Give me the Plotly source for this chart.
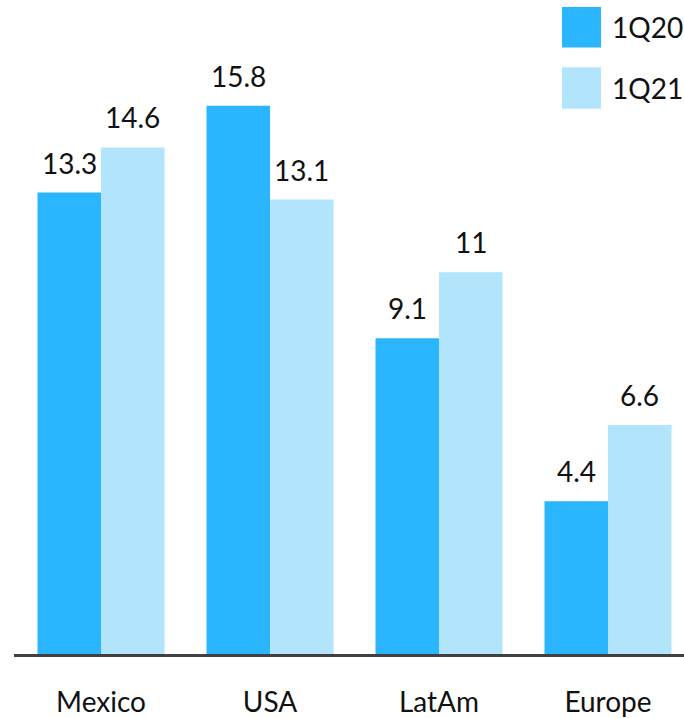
import plotly.graph_objects as go

# Regional values for the two quarters
regions = ["Mexico", "USA", "LatAm", "Europe"]
q1_2020 = [13.3, 15.8, 9.1, 4.4]
q1_2021 = [14.6, 13.1, 11, 6.6]
series_names = ["1Q20", "1Q21"]

COLOR_20 = "#2AB5FE"
COLOR_21 = "#B2E4FB"
FONT = "Lato, 'Open Sans', sans-serif"
TEXT_COLOR = "#111111"

W, H = 684, 718
M_L, M_R, M_T, M_B = 14, 0, 0, 56

fig = go.Figure()
for name, vals, col in [(series_names[0], q1_2020, COLOR_20),
                        (series_names[1], q1_2021, COLOR_21)]:
    fig.add_trace(go.Bar(
        x=regions, y=vals, name=name,
        marker=dict(color=col, line=dict(width=0)),
        showlegend=False,
    ))

# Value labels above each bar (half a bar width left/right of the category centre)
bar_px = 63.5
for vals, shift in [(q1_2020, -bar_px / 2), (q1_2021, bar_px / 2)]:
    for r, v in zip(regions, vals):
        fig.add_annotation(
            x=r, y=v, text=f"{v:g}", showarrow=False,
            xshift=shift, yshift=11, yanchor="bottom",
            font=dict(family=FONT, size=28, color=TEXT_COLOR),
        )

# Legend drawn as large swatches with labels in the top-right corner
plot_w = W - M_L - M_R
plot_h = H - M_T - M_B

def px_x(px):
    return (px - M_L) / plot_w

def px_y(py):
    return (H - M_B - py) / plot_h

for (y0, y1), name, col in [((7, 48), series_names[0], COLOR_20),
                            ((68, 110), series_names[1], COLOR_21)]:
    fig.add_shape(type="rect", xref="paper", yref="paper",
                  x0=px_x(562), x1=px_x(601), y0=px_y(y1), y1=px_y(y0),
                  fillcolor=col, line=dict(width=0), layer="above")
    fig.add_annotation(xref="paper", yref="paper",
                       x=px_x(610), y=px_y((y0 + y1) / 2), text=name,
                       showarrow=False, xanchor="left", yanchor="middle",
                       font=dict(family=FONT, size=28, color=TEXT_COLOR))

fig.update_layout(
    width=W, height=H,
    margin=dict(l=M_L, r=M_R, t=M_T, b=M_B, pad=0),
    barmode="group", bargap=0.2485, bargroupgap=0,
    plot_bgcolor="white", paper_bgcolor="white",
    xaxis=dict(
        range=[-0.5148, 3.4497], showgrid=False, zeroline=False,
        showline=True, linecolor="#404040", linewidth=3,
        ticks="", ticklabelstandoff=21,
        tickfont=dict(family=FONT, size=28, color=TEXT_COLOR),
    ),
    yaxis=dict(
        range=[0, 18.85], showgrid=False, zeroline=False,
        showticklabels=False, showline=False, ticks="",
    ),
)

fig.write_html("out.html")
